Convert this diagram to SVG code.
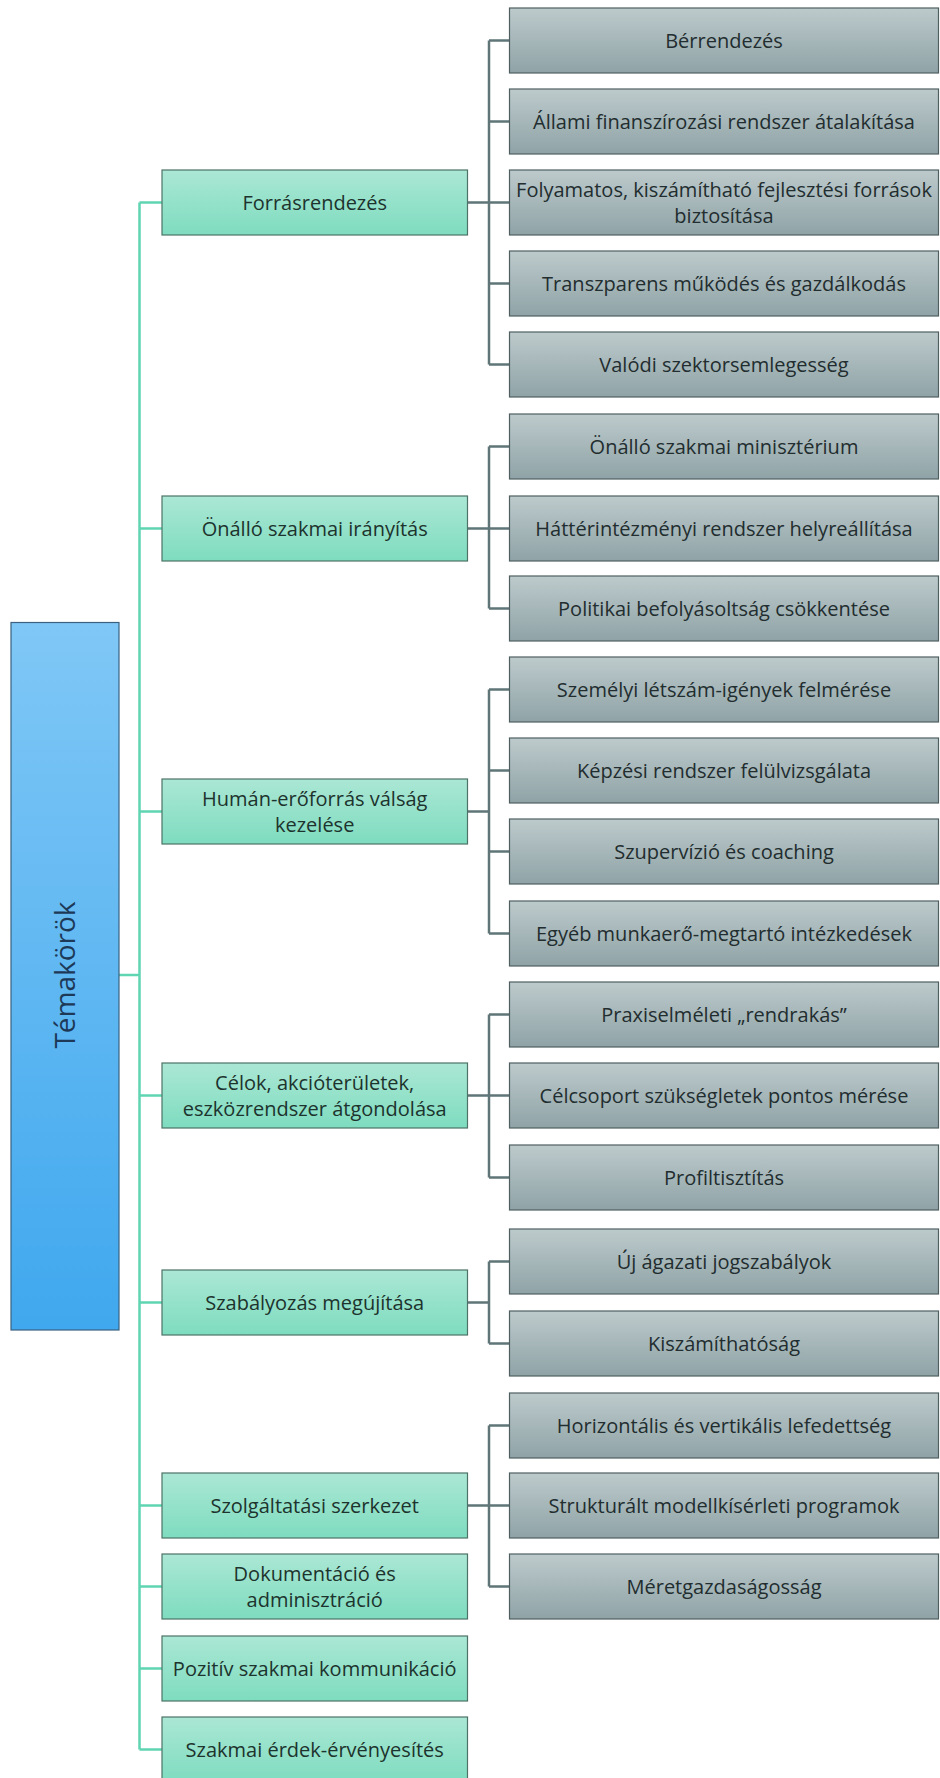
<svg xmlns="http://www.w3.org/2000/svg" width="940" height="1778" viewBox="0 0 940 1778">
<defs>
<linearGradient id="gGreen" x1="0" y1="0" x2="0" y2="1"><stop offset="0" stop-color="#abe7d5"/><stop offset="1" stop-color="#7edcbf"/></linearGradient>
<linearGradient id="gGray" x1="0" y1="0" x2="0" y2="1"><stop offset="0" stop-color="#bdcacc"/><stop offset="1" stop-color="#8fa3a6"/></linearGradient>
<linearGradient id="gBlue" x1="0" y1="0" x2="0" y2="1"><stop offset="0" stop-color="#7fc7f6"/><stop offset="1" stop-color="#40a8ee"/></linearGradient>
</defs>
<style>
.g rect{fill:url(#gGreen);stroke:#4c7366;stroke-width:1.2}
.s rect{fill:url(#gGray);stroke:#4f5f61;stroke-width:1.2}
.b rect{fill:url(#gBlue);stroke:#3a6180;stroke-width:1.2}
text{font-family:"Open Sans","Liberation Sans",sans-serif;font-size:20px;text-anchor:middle}
.g text{fill:#1d332d}
.s text{fill:#222d2f}
.b text{fill:#1d3957;font-size:28px}
.tr{fill:none;stroke:#5fd5b1;stroke-width:2.5}
.br{fill:none;stroke:#5f7578;stroke-width:2.5}
</style>
<rect width="940" height="1778" fill="#ffffff"/>
<g id="connectors">
<path class="tr" d="M139.5 202.5V1749.5M119 975H139.5M139.5 202.5H162M139.5 528.5H162M139.5 811.5H162M139.5 1095.5H162M139.5 1302.5H162M139.5 1505.5H162M139.5 1586.5H162M139.5 1668.5H162M139.5 1749.5H162"/>
<path class="br" d="M467.5 202.5H489M489 40.5V364.5M489 40.5H509.5M489 121.5H509.5M489 202.5H509.5M489 283.5H509.5M489 364.5H509.5"/>
<path class="br" d="M467.5 528.5H489M489 446.5V608.5M489 446.5H509.5M489 528.5H509.5M489 608.5H509.5"/>
<path class="br" d="M467.5 811.5H489M489 689.5V933.5M489 689.5H509.5M489 770.5H509.5M489 851.5H509.5M489 933.5H509.5"/>
<path class="br" d="M467.5 1095.5H489M489 1014.5V1177.5M489 1014.5H509.5M489 1095.5H509.5M489 1177.5H509.5"/>
<path class="br" d="M467.5 1302.5H489M489 1261.5V1343.5M489 1261.5H509.5M489 1343.5H509.5"/>
<path class="br" d="M467.5 1505.5H489M489 1425.5V1586.5M489 1425.5H509.5M489 1505.5H509.5M489 1586.5H509.5"/>
</g>
<g id="root" class="b"><rect x="11" y="622.5" width="108" height="707.5"/><text x="65" y="985" transform="rotate(-90 65 975)">Témakörök</text></g>
<g id="t1" class="g"><rect x="162" y="170" width="305.5" height="65"/><text x="314.7" y="209.5">Forrásrendezés</text></g>
<g id="t2" class="g"><rect x="162" y="496" width="305.5" height="65"/><text x="314.7" y="535.5">Önálló szakmai irányítás</text></g>
<g id="t3" class="g"><rect x="162" y="779" width="305.5" height="65"/><text x="314.7" y="805.5">Humán-erőforrás válság</text><text x="314.7" y="831.5">kezelése</text></g>
<g id="t4" class="g"><rect x="162" y="1063" width="305.5" height="65"/><text x="314.7" y="1089.5">Célok, akcióterületek,</text><text x="314.7" y="1115.5">eszközrendszer átgondolása</text></g>
<g id="t5" class="g"><rect x="162" y="1270" width="305.5" height="65"/><text x="314.7" y="1309.5">Szabályozás megújítása</text></g>
<g id="t6" class="g"><rect x="162" y="1473" width="305.5" height="65"/><text x="314.7" y="1512.5">Szolgáltatási szerkezet</text></g>
<g id="t7" class="g"><rect x="162" y="1554" width="305.5" height="65"/><text x="314.7" y="1580.5">Dokumentáció és</text><text x="314.7" y="1606.5">adminisztráció</text></g>
<g id="t8" class="g"><rect x="162" y="1636" width="305.5" height="65"/><text x="314.7" y="1675.5">Pozitív szakmai kommunikáció</text></g>
<g id="t9" class="g"><rect x="162" y="1717" width="305.5" height="65"/><text x="314.7" y="1756.5">Szakmai érdek-érvényesítés</text></g>
<g id="s1" class="s"><rect x="509.5" y="8" width="429" height="65"/><text x="724" y="47.5">Bérrendezés</text></g>
<g id="s2" class="s"><rect x="509.5" y="89" width="429" height="65"/><text x="724" y="128.5">Állami finanszírozási rendszer átalakítása</text></g>
<g id="s3" class="s"><rect x="509.5" y="170" width="429" height="65"/><text x="724" y="196.5">Folyamatos, kiszámítható fejlesztési források</text><text x="724" y="222.5">biztosítása</text></g>
<g id="s4" class="s"><rect x="509.5" y="251" width="429" height="65"/><text x="724" y="290.5">Transzparens működés és gazdálkodás</text></g>
<g id="s5" class="s"><rect x="509.5" y="332" width="429" height="65"/><text x="724" y="371.5">Valódi szektorsemlegesség</text></g>
<g id="s6" class="s"><rect x="509.5" y="414" width="429" height="65"/><text x="724" y="453.5">Önálló szakmai minisztérium</text></g>
<g id="s7" class="s"><rect x="509.5" y="496" width="429" height="65"/><text x="724" y="535.5">Háttérintézményi rendszer helyreállítása</text></g>
<g id="s8" class="s"><rect x="509.5" y="576" width="429" height="65"/><text x="724" y="615.5">Politikai befolyásoltság csökkentése</text></g>
<g id="s9" class="s"><rect x="509.5" y="657" width="429" height="65"/><text x="724" y="696.5">Személyi létszám-igények felmérése</text></g>
<g id="s10" class="s"><rect x="509.5" y="738" width="429" height="65"/><text x="724" y="777.5">Képzési rendszer felülvizsgálata</text></g>
<g id="s11" class="s"><rect x="509.5" y="819" width="429" height="65"/><text x="724" y="858.5">Szupervízió és coaching</text></g>
<g id="s12" class="s"><rect x="509.5" y="901" width="429" height="65"/><text x="724" y="940.5">Egyéb munkaerő-megtartó intézkedések</text></g>
<g id="s13" class="s"><rect x="509.5" y="982" width="429" height="65"/><text x="724" y="1021.5">Praxiselméleti „rendrakás”</text></g>
<g id="s14" class="s"><rect x="509.5" y="1063" width="429" height="65"/><text x="724" y="1102.5">Célcsoport szükségletek pontos mérése</text></g>
<g id="s15" class="s"><rect x="509.5" y="1145" width="429" height="65"/><text x="724" y="1184.5">Profiltisztítás</text></g>
<g id="s16" class="s"><rect x="509.5" y="1229" width="429" height="65"/><text x="724" y="1268.5">Új ágazati jogszabályok</text></g>
<g id="s17" class="s"><rect x="509.5" y="1311" width="429" height="65"/><text x="724" y="1350.5">Kiszámíthatóság</text></g>
<g id="s18" class="s"><rect x="509.5" y="1393" width="429" height="65"/><text x="724" y="1432.5">Horizontális és vertikális lefedettség</text></g>
<g id="s19" class="s"><rect x="509.5" y="1473" width="429" height="65"/><text x="724" y="1512.5">Strukturált modellkísérleti programok</text></g>
<g id="s20" class="s"><rect x="509.5" y="1554" width="429" height="65"/><text x="724" y="1593.5">Méretgazdaságosság</text></g>
</svg>
